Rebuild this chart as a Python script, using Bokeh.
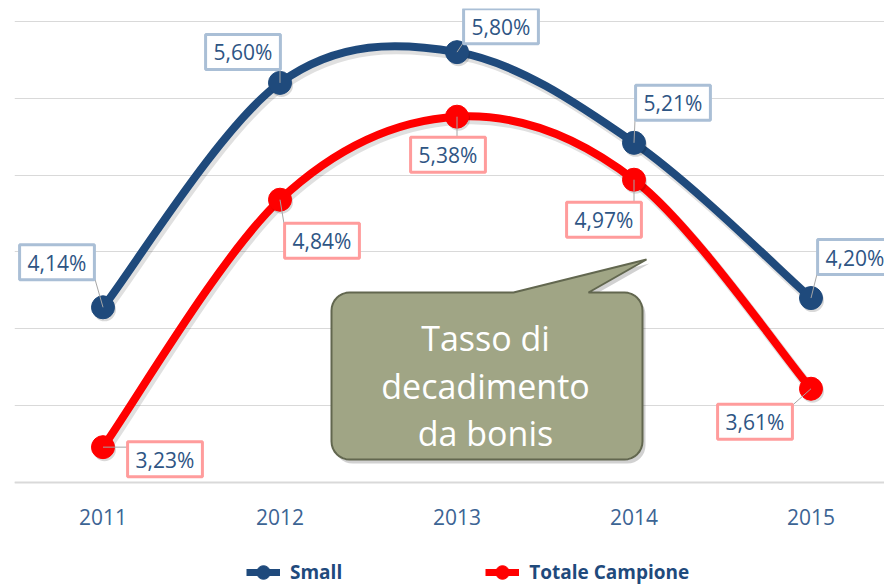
import math
from bokeh.plotting import figure
from bokeh.models import (Range1d, FixedTicker, Grid, Label, Legend, LegendItem, Span)
from bokeh.core.properties import value
from bokeh.embed import file_html
from bokeh.resources import INLINE

# ---------------- data ----------------
years = [2011, 2012, 2013, 2014, 2015]
small = [4.14, 5.60, 5.80, 5.21, 4.20]
totale = [3.23, 4.84, 5.38, 4.97, 3.61]
series_names = ["Small", "Totale Campione"]
y_grid_ticks = [3.0, 3.5, 4.0, 4.5, 5.0, 5.5, 6.0]
year_labels = [str(y) for y in years]
callout_lines = ["Tasso di", "decadimento", "da bonis"]

# ---------------- layout / style ----------------
W, H = 884, 587
BL, BT = 14, 8
AXIS_Y = 482                          # picture row of the category axis
PXX, PXY = 177.0, 153.7               # px per year / per percentage point
X0 = years[0] - 0.5
X1 = X0 + (W - BL) / PXX
Y0 = y_grid_ticks[0] - (H - AXIS_Y) / PXY
Y1 = y_grid_ticks[0] + (AXIS_Y - BT) / PXY

C_SMALL = "#1f4a7c"
C_TOT = "#ff0000"
C_TXT = "#2e5584"
C_AXT = "#3c6494"
FONT = "Open Sans"

# picture-pixel -> data helpers (for decoration only)
def xd(X):
    return X0 + (X - BL) / PXX
def yd(Y):
    return y_grid_ticks[0] + (AXIS_Y - Y) / PXY

p = figure(width=W, height=H, output_backend="svg", toolbar_location=None,
           x_range=Range1d(X0, X1), y_range=Range1d(Y0, Y1),
           x_axis_location=None, y_axis_location=None,
           min_border_left=BL, min_border_right=0, min_border_top=BT, min_border_bottom=0)
p.outline_line_color = None
p.background_fill_color = "white"
p.border_fill_color = "white"
p.grid.visible = False

grid = Grid(dimension=1, ticker=FixedTicker(ticks=y_grid_ticks),
            grid_line_color="#d9d9d9", grid_line_width=1)
p.add_layout(grid)
p.add_layout(Span(location=y_grid_ticks[0], dimension="width",
                  line_color="#d9d9d9", line_width=2))

# category labels under the axis line
p.text(x=years, y=[y_grid_ticks[0] - 34 / PXY] * len(years), text=year_labels,
       text_align="center", text_baseline="middle", text_font=value(FONT),
       text_font_size="21px", text_color=C_AXT)


def bezier_parts(xs, ys):
    n = len(xs)
    out = {k: [] for k in ("x0", "y0", "x1", "y1", "cx0", "cy0", "cx1", "cy1")}
    for i in range(n - 1):
        a = max(i - 1, 0)
        b = min(i + 2, n - 1)
        out["x0"].append(xs[i]); out["y0"].append(ys[i])
        out["x1"].append(xs[i + 1]); out["y1"].append(ys[i + 1])
        out["cx0"].append(xs[i] + (xs[i + 1] - xs[a]) / 6.0)
        out["cy0"].append(ys[i] + (ys[i + 1] - ys[a]) / 6.0)
        out["cx1"].append(xs[i + 1] - (xs[b] - xs[i]) / 6.0)
        out["cy1"].append(ys[i + 1] - (ys[b] - ys[i]) / 6.0)
    return out


def shifted(parts, dxp, dyp):
    q = dict(parts)
    for k in ("x0", "x1", "cx0", "cx1"):
        q[k] = [v + dxp / PXX for v in parts[k]]
    for k in ("y0", "y1", "cy0", "cy1"):
        q[k] = [v - dyp / PXY for v in parts[k]]
    return q


fmt = lambda v: f"{v:.2f}".replace(".", ",") + "%"

legend_items = []
series = [(small, C_SMALL, "#aabfd6"), (totale, C_TOT, "#ff9c9c")]
for (vals, col, bcol), name in zip(series, series_names):
    parts = bezier_parts(years, vals)
    sh = shifted(parts, 2, 3)
    p.bezier(x0="x0", y0="y0", x1="x1", y1="y1", cx0="cx0", cy0="cy0", cx1="cx1", cy1="cy1",
             source=sh, line_color="black", line_alpha=0.12, line_width=10)
    p.bezier(x0="x0", y0="y0", x1="x1", y1="y1", cx0="cx0", cy0="cy0", cx1="cx1", cy1="cy1",
             source=parts, line_color=col, line_width=8, line_cap="round")
    p.scatter([x + 1.5 / PXX for x in years], [v - 2.5 / PXY for v in vals], size=23,
              marker="circle", fill_color="black", fill_alpha=0.15, line_color=None)
    dots = p.scatter(years, vals, size=23, marker="circle", fill_color=col, line_color=col)
    # single-point line: draws nothing in the plot, only provides the legend stroke
    leg_line = p.line(years[:1], vals[:1], line_color=col, line_width=7)
    legend_items.append(LegendItem(label=name, renderers=[leg_line, dots]))

# label offsets (box centre relative to point, screen px, y down)
small_off = [(-46, -45), (-37, -31), (44, -26), (39, -40), (44, -41)]
tot_off = [(62, 12), (42, 41), (-9, 38), (-30, 40), (-56, 33)]
HW, HH = 38, 17

for (vals, col, bcol), offs in zip(series, [small_off, tot_off]):
    sx0, sy0, sx1, sy1 = [], [], [], []
    for xv, yv, (dx, dy) in zip(years, vals, offs):
        ex = min(max(0, dx - HW), dx + HW)
        ey = min(max(0, dy - HH), dy + HH)
        sx0.append(xv); sy0.append(yv)
        sx1.append(xv + ex / PXX); sy1.append(yv - ey / PXY)
    p.segment(sx0, sy0, sx1, sy1, line_color="#a6a6a6", line_width=1)
    for xv, yv, (dx, dy) in zip(years, vals, offs):
        p.add_layout(Label(x=xv, y=yv, x_offset=dx, y_offset=-dy, text=fmt(yv),
                           text_align="center", text_baseline="middle",
                           text_font=FONT, text_font_size="21px", text_color=C_TXT,
                           background_fill_color="white", border_line_color=bcol,
                           border_line_width=3,
                           padding=dict(left=8, right=8, top=4, bottom=3)))

# ---------------- callout ----------------
L_, R_, T_, B_, r = 331, 642, 292, 459, 18
tail = [(513, T_), (646, 259), (588, T_)]
pts = [(L_ + r, T_)] + tail
def arc(cx, cy, a0, a1, n=8):
    return [(cx + r * math.cos(math.radians(a0 + (a1 - a0) * k / n)),
             cy + r * math.sin(math.radians(a0 + (a1 - a0) * k / n))) for k in range(n + 1)]
pts += arc(R_ - r, T_ + r, -90, 0)
pts += arc(R_ - r, B_ - r, 0, 90)
pts += arc(L_ + r, B_ - r, 90, 180)
pts += arc(L_ + r, T_ + r, 180, 270)
p.patch([xd(a + 3) for a, b in pts], [yd(b + 4) for a, b in pts],
        fill_color="black", fill_alpha=0.18, line_color=None)
p.patch([xd(a) for a, b in pts], [yd(b) for a, b in pts],
        fill_color="#a0a585", line_color="#62674f", line_width=2)
for txt, base in zip(callout_lines, [337, 385, 432]):
    p.add_layout(Label(x=xd(485), y=yd(base), text=txt, text_align="center",
                       text_baseline="alphabetic", text_font=FONT,
                       text_font_size="34px", text_color="white"))

legend = Legend(items=legend_items, orientation="horizontal", location=(232, -2),
                glyph_width=34, glyph_height=34, label_standoff=10, spacing=143,
                padding=0, margin=0, border_line_color=None, background_fill_alpha=0,
                label_text_font=FONT, label_text_font_size="19px",
                label_text_font_style="bold", label_text_color=C_SMALL)
p.add_layout(legend)

open("out.html", "w").write(file_html(p, INLINE))
